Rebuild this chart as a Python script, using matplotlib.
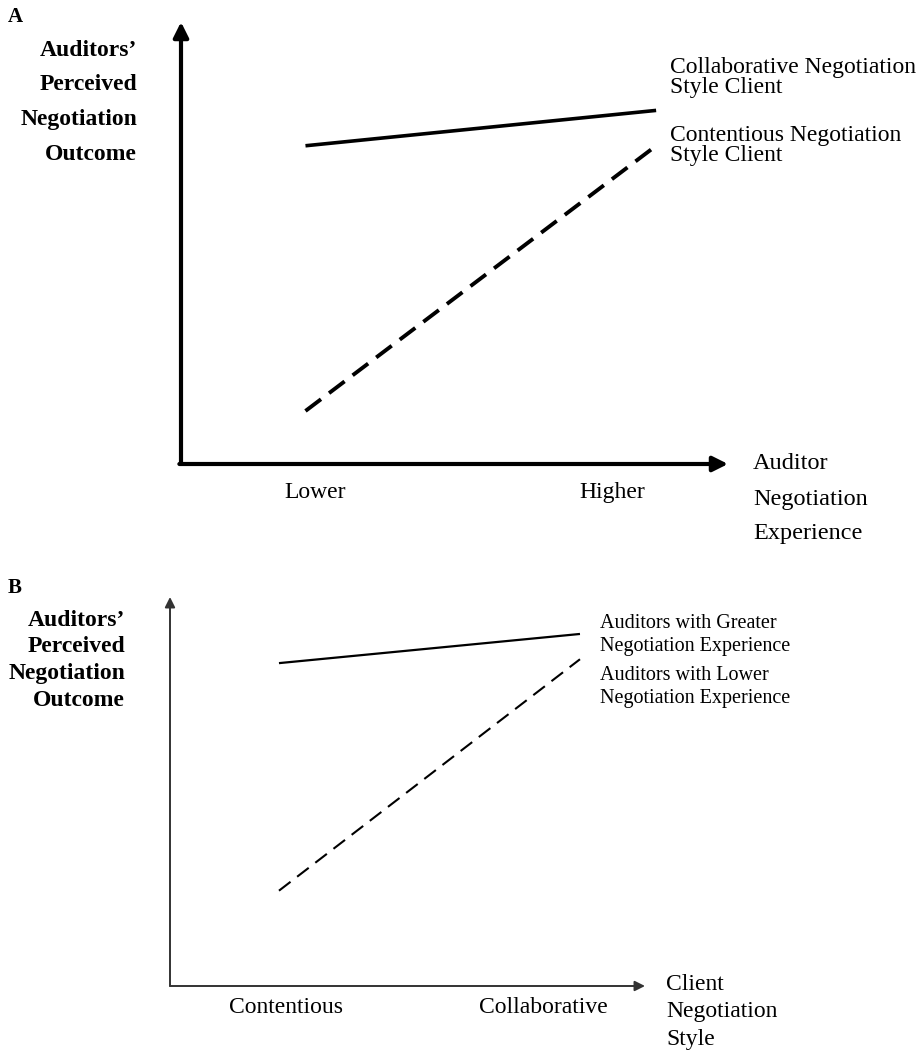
import matplotlib.pyplot as plt

plt.rcParams['font.family'] = ['Liberation Serif', 'DejaVu Serif']

W, H = 923, 1052

# panel A: x = auditor negotiation experience, lines = client style
a_levels = ['Lower', 'Higher']
a_collab = [7.2, 8.0]
a_content = [1.2, 7.2]

# panel B: x = client negotiation style, lines = auditor experience
b_levels = ['Contentious', 'Collaborative']
b_greater = [8.3, 9.05]
b_lower = [2.45, 8.4]

ylabel_lines = ["Auditors\u2019", "Perceived", "Negotiation", "Outcome"]

# where the category names sit along x (data units)
a_label_x = [0.027, 0.874]
b_label_x = [0.023, 0.880]


def px(x, y):
    return x / W, 1 - y / H


fig = plt.figure(figsize=(W / 100, H / 100), dpi=100)

# ---- panel A ----
axA = fig.add_axes([181 / W, 1 - 464 / H, 547 / W, 442 / H])
axA.set_xlim(-0.355, 1.205)
axA.set_ylim(0, 10)
axA.axis('off')
axA.plot([0, 1], a_collab, color='black', lw=2.6, solid_capstyle='butt')
axA.plot([0, 1], a_content, color='black', lw=2.8, dashes=(5, 2.6), dash_capstyle='butt')
arrA = dict(arrowstyle='-|>,head_length=0.9,head_width=0.45', color='black', lw=3,
            shrinkA=0, shrinkB=0)
axA.annotate('', xy=(0, 1), xytext=(0, 0), xycoords='axes fraction', arrowprops=arrA)
axA.annotate('', xy=(1, 0), xytext=(-0.003, 0), xycoords='axes fraction', arrowprops=arrA)
for xx, lab in zip(a_label_x, a_levels):
    axA.text(xx, -0.065, lab, transform=axA.get_xaxis_transform(),
             ha='center', va='center', fontsize=17)

fig.text(*px(8, 17), 'A', fontsize=15, fontweight='bold', va='center')
for txt, yy in zip(ylabel_lines, [50, 85, 120, 155]):
    fig.text(*px(137, yy), txt, fontsize=17, fontweight='bold', ha='right', va='center')
for txt, yy in zip(['Collaborative Negotiation', 'Style Client'], [68, 88]):
    fig.text(*px(670, yy), txt, fontsize=17, va='center')
for txt, yy in zip(['Contentious Negotiation', 'Style Client'], [136, 155]):
    fig.text(*px(670, yy), txt, fontsize=17, va='center')
for txt, yy in zip(['Auditor', 'Negotiation', 'Experience'], [463, 499, 534]):
    fig.text(*px(753, yy), txt, fontsize=17.5, va='center')

# ---- panel B ----
axB = fig.add_axes([170 / W, 1 - 986 / H, 475 / W, 389 / H])
axB.set_xlim(-0.362, 1.216)
axB.set_ylim(0, 10)
axB.axis('off')
axB.plot([0, 1], b_greater, color='black', lw=1.6, solid_capstyle='butt')
axB.plot([0, 1], b_lower, color='black', lw=1.5, dashes=(7, 4), dash_capstyle='butt')
arrB = dict(arrowstyle='-|>,head_length=0.6,head_width=0.3', color='#333333', lw=1.4,
            shrinkA=0, shrinkB=0)
axB.annotate('', xy=(0, 1), xytext=(0, 0), xycoords='axes fraction', arrowprops=arrB)
axB.annotate('', xy=(1, 0), xytext=(0, 0), xycoords='axes fraction', arrowprops=arrB)
for xx, lab in zip(b_label_x, b_levels):
    axB.text(xx, -0.055, lab, transform=axB.get_xaxis_transform(),
             ha='center', va='center', fontsize=17)

fig.text(*px(8, 588), 'B', fontsize=15, fontweight='bold', va='center')
for txt, yy in zip(ylabel_lines, [620, 646, 673, 700]):
    fig.text(*px(125, yy), txt, fontsize=17, fontweight='bold', ha='right', va='center')
for txt, yy in zip(['Auditors with Greater', 'Negotiation Experience',
                    'Auditors with Lower', 'Negotiation Experience'], [623, 647, 675, 698]):
    fig.text(*px(600, yy), txt, fontsize=14.5, va='center')
for txt, yy in zip(['Client', 'Negotiation', 'Style'], [985, 1012, 1040]):
    fig.text(*px(666, yy), txt, fontsize=17, va='center')

fig.savefig('out.png', dpi=100)
